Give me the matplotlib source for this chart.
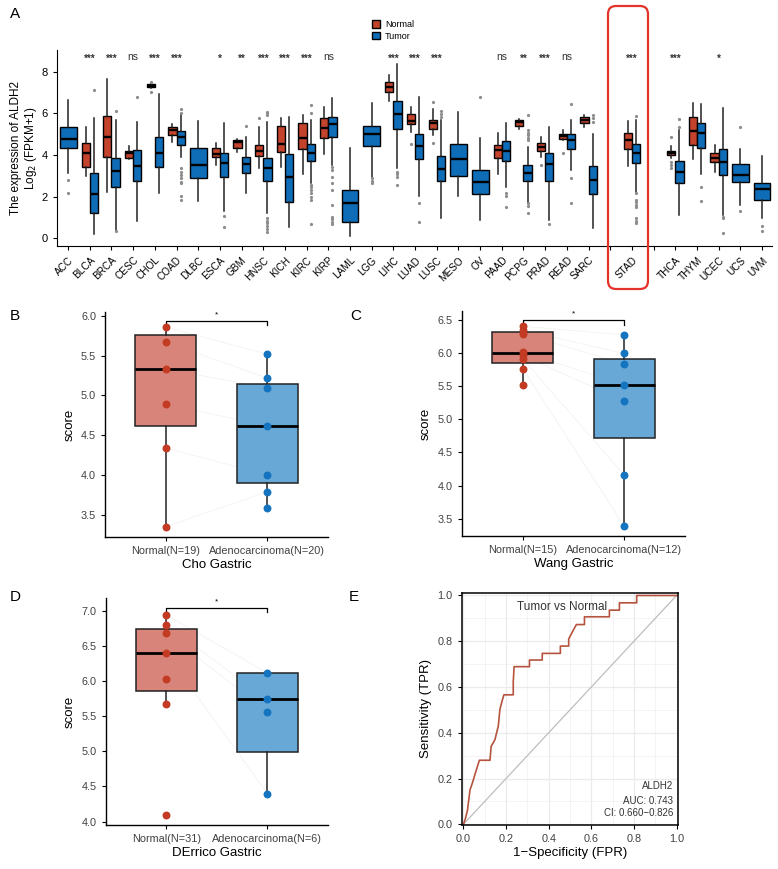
import numpy as np
import matplotlib.pyplot as plt
from matplotlib.patches import Patch, FancyBboxPatch
from matplotlib.transforms import IdentityTransform

plt.rcParams['font.family'] = ['Liberation Sans', 'DejaVu Sans']

# ---------------- panel A data (pan-cancer ALDH2) ----------------
cancers = ['ACC', 'BLCA', 'BRCA', 'CESC', 'CHOL', 'COAD', 'DLBC', 'ESCA', 'GBM', 'HNSC',
           'KICH', 'KIRC', 'KIRP', 'LAML', 'LGG', 'LIHC', 'LUAD', 'LUSC', 'MESO', 'OV',
           'PAAD', 'PCPG', 'PRAD', 'READ', 'SARC', '', 'STAD', '', 'THCA', 'THYM',
           'UCEC', 'UCS', 'UVM']
sig_labels = ['', '***', '***', 'ns', '***', '***', '', '*', '**', '***',
              '***', '***', 'ns', '', '', '***', '***', '***', '', '',
              'ns', '**', '***', 'ns', '', '', '***', '', '***', '',
              '*', '', '']

# (low whisker, q1, median, q3, high whisker); None = no normal samples
normal_stats = [
    None, (3.0, 3.41, 4.11, 4.6, 5.33), (2.24, 3.92, 4.85, 5.87, 7.63),
    (3.8, 3.86, 4.08, 4.2, 4.45), (7.2, 7.25, 7.33, 7.39, 7.45), (4.64, 4.96, 5.2, 5.36, 5.49),
    None, (3.52, 3.89, 4.05, 4.32, 4.59), (4.14, 4.35, 4.64, 4.72, 4.75),
    (3.36, 3.95, 4.2, 4.48, 5.36), (3.41, 4.16, 4.51, 5.39, 5.76), (3.07, 4.27, 4.8, 5.52, 5.92),
    (4.05, 4.8, 5.28, 5.76, 6.29), None, None,
    (6.59, 7.04, 7.25, 7.52, 7.84), (5.12, 5.49, 5.65, 5.95, 6.32), (4.96, 5.26, 5.52, 5.68, 6.19),
    None, None, (3.09, 3.84, 4.24, 4.48, 5.04),
    (5.25, 5.41, 5.57, 5.68, 5.72), (3.92, 4.21, 4.4, 4.59, 4.85), (4.72, 4.77, 4.91, 5.0, 5.2),
    (5.36, 5.52, 5.68, 5.81, 5.92), None, (3.47, 4.29, 4.72, 5.04, 5.63),
    None, (3.84, 3.98, 4.11, 4.21, 4.43), (3.79, 4.48, 5.17, 5.84, 6.51),
    (3.2, 3.68, 3.87, 4.08, 4.48), None, None]
normal_fliers = [
    [], [], [], [], [7.52, 7.04], [], [], [], [], [5.79],
    [], [], [], [], [], [], [4.53], [6.56, 4.59], [], [],
    [], [], [3.52], [4.11], [], [], [], [], [4.85, 3.65, 3.5, 3.36], [],
    [], [], []]
tumor_stats = [
    (3.12, 4.35, 4.75, 5.33, 6.64), (0.19, 1.2, 2.13, 3.12, 5.76), (0.4, 2.48, 3.25, 3.84, 5.68),
    (0.85, 2.77, 3.47, 4.24, 5.6), (2.19, 3.41, 4.1, 4.85, 6.93), (3.92, 4.48, 4.85, 5.15, 5.9),
    (1.81, 2.91, 3.52, 4.35, 5.63), (1.31, 2.96, 3.6, 4.08, 5.55), (2.19, 3.15, 3.55, 3.92, 4.88),
    (1.2, 2.75, 3.36, 3.87, 5.6), (0.53, 1.76, 2.96, 4.05, 5.84), (2.64, 3.73, 4.08, 4.51, 5.7),
    (3.52, 4.88, 5.49, 5.84, 6.75), (0.13, 0.8, 1.71, 2.32, 4.35), (2.96, 4.43, 4.99, 5.39, 6.48),
    (3.36, 5.25, 5.97, 6.61, 8.37), (2.03, 3.79, 4.43, 4.99, 6.8), (0.96, 2.77, 3.33, 3.95, 5.7),
    (2.03, 2.99, 3.79, 4.53, 6.05), (0.88, 2.13, 2.69, 3.28, 4.8), (2.45, 3.71, 4.21, 4.69, 5.52),
    (1.76, 2.77, 3.15, 3.52, 4.4), (0.88, 2.77, 3.55, 4.11, 5.33), (3.28, 4.27, 4.72, 4.99, 5.68),
    (0.48, 2.13, 2.8, 3.47, 4.99), None, (2.24, 3.6, 4.08, 4.51, 5.68),
    None, (1.12, 2.64, 3.2, 3.71, 5.2), (3.09, 4.32, 5.07, 5.55, 6.43),
    (1.12, 3.04, 3.68, 4.29, 6.24), (1.6, 2.69, 3.04, 3.55, 4.27), (0.96, 1.84, 2.37, 2.67, 3.97)]
tumor_fliers = [
    [2.8, 2.16], [7.12], [6.13, 0.35], [6.77], [], [6.2, 6.0, 3.36, 3.2, 3.04, 2.88, 2.72, 2.64, 2.05, 1.84],
    [], [1.07, 0.56], [5.39], [6.08, 6.0, 5.92, 0.96, 0.85, 0.72, 0.6, 0.45, 0.32],
    [], [6.4, 6.0, 2.56, 2.45, 2.32, 2.19, 2.0, 1.84, 0.69],
    [3.41, 3.28, 2.96, 2.64, 2.32, 1.6, 1.04, 0.93, 0.8, 0.67], [], [2.88, 2.77, 2.64],
    [3.2, 3.09, 2.96, 2.56], [1.68, 0.78], [6.1, 5.95, 5.84], [], [6.77], [2.19, 2.05, 1.52],
    [5.92, 5.2, 5.07, 4.95, 4.83, 4.7, 1.68, 1.57, 1.2], [0.69], [6.45, 2.91, 1.71],
    [5.9, 5.76, 5.6], [], [5.89, 2.16, 1.84, 1.73, 1.6, 1.49, 0.96, 0.85, 0.75],
    [], [5.73, 5.36], [2.45, 1.81], [1.04, 0.96, 0.24], [5.33, 1.31], [0.59, 0.37]]

# ---------------- panels B-D data (GEO gastric cohorts) ----------------
cho_normal_pts = [5.86, 5.67, 5.33, 4.89, 4.34, 3.35]
cho_adeno_pts = [5.52, 5.22, 5.10, 4.62, 4.0, 3.79, 3.59]
cho_normal_box = (3.35, 4.62, 5.33, 5.76, 5.86)
cho_adeno_box = (3.59, 3.9, 4.62, 5.15, 5.52)

wang_normal_pts = [6.40, 6.34, 6.29, 6.01, 5.96, 5.91, 5.76, 5.51]
wang_adeno_pts = [6.27, 5.99, 5.83, 5.52, 5.27, 4.16, 3.39]
wang_normal_box = (5.51, 5.84, 6.0, 6.32, 6.40)
wang_adeno_box = (3.39, 4.72, 5.52, 5.91, 6.27)

derrico_normal_pts = [6.95, 6.80, 6.69, 6.40, 6.04, 5.68, 4.10]
derrico_adeno_pts = [6.12, 5.75, 5.57, 4.40]
derrico_normal_box = (5.68, 5.86, 6.40, 6.75, 6.98)
derrico_adeno_box = (4.40, 4.99, 5.75, 6.12, 6.12)

# ---------------- panel E data (ROC) ----------------
roc_fpr = [0, 0.008, 0.019, 0.031, 0.042, 0.055, 0.065, 0.075, 0.125, 0.13, 0.148, 0.164,
           0.171, 0.179, 0.19, 0.234, 0.234, 0.238, 0.31, 0.31, 0.37, 0.37, 0.455, 0.455,
           0.494, 0.494, 0.511, 0.53, 0.568, 0.568, 0.685, 0.685, 0.732, 0.732, 0.813,
           0.813, 1.0]
roc_tpr = [0, 0.02, 0.06, 0.15, 0.18, 0.22, 0.25, 0.28, 0.28, 0.34, 0.37, 0.43,
           0.50, 0.53, 0.566, 0.566, 0.624, 0.689, 0.689, 0.718, 0.718, 0.747, 0.747, 0.779,
           0.779, 0.81, 0.84, 0.873, 0.873, 0.907, 0.907, 0.936, 0.936, 0.968, 0.968,
           1.0, 1.0]

RED = '#C4432C'
BLUE = '#0F6DB8'
RED_LIGHT = '#D9847A'
BLUE_LIGHT = '#68A8D7'
RED_PT = '#C23B22'
BLUE_PT = '#1574C0'

fig = plt.figure(figsize=(7.78, 8.69), dpi=100)


def make_stat(s, fl=()):
    return {'whislo': s[0], 'q1': s[1], 'med': s[2], 'q3': s[3], 'whishi': s[4], 'fliers': list(fl)}


# ---------------- panel A ----------------
axA = fig.add_axes([0.0733, 0.7169, 0.919, 0.2255])
x = np.arange(len(cancers))
flierprops = dict(marker='o', markersize=2.3, markerfacecolor='#8C8C8C', markeredgecolor='none')
for i in range(len(cancers)):
    ns, ts = normal_stats[i], tumor_stats[i]
    groups = []
    if ns is not None and ts is not None:
        groups = [(ns, normal_fliers[i], i - 0.19, 0.38, RED), (ts, tumor_fliers[i], i + 0.19, 0.38, BLUE)]
    elif ts is not None:
        groups = [(ts, tumor_fliers[i], i, 0.78, BLUE)]
    for st, fl, pos, w, col in groups:
        axA.bxp([make_stat(st, fl)], positions=[pos], widths=w, patch_artist=True,
                showcaps=False, flierprops=flierprops,
                boxprops=dict(facecolor=col, edgecolor='black', linewidth=1.0),
                medianprops=dict(color='black', linewidth=1.7),
                whiskerprops=dict(color='#222222', linewidth=1.1))
    if sig_labels[i]:
        if sig_labels[i] == 'ns':
            axA.text(i, 8.72, 'ns', ha='center', va='center', fontsize=7.5, color='#333333')
        else:
            axA.text(i, 8.6, sig_labels[i], ha='center', va='center', fontsize=7,
                     fontweight='bold', color='#333333')

axA.set_xlim(-0.51, 32.46)
axA.set_ylim(-0.37, 9.04)
axA.set_xticks(x)
axA.set_xticklabels(cancers, rotation=45, ha='right', rotation_mode='anchor', fontsize=7.2)
axA.set_yticks([0, 2, 4, 6, 8])
axA.tick_params(axis='y', labelsize=8, length=3)
axA.tick_params(axis='x', length=3)
axA.spines['top'].set_visible(False)
axA.spines['right'].set_visible(False)
axA.set_ylabel('The expression of ALDH2\nLog$_2$ (FPKM+1)', fontsize=8.5, labelpad=2, linespacing=1.05)

fig.legend(handles=[Patch(facecolor=RED, edgecolor='black', label='Normal'),
                    Patch(facecolor=BLUE, edgecolor='black', label='Tumor')],
           loc='upper left', bbox_to_anchor=(364 / 778, 1 - 12 / 869), frameon=False,
           fontsize=6.5, handlelength=0.9, handleheight=0.9, labelspacing=0.3, handletextpad=0.5)

fig.patches.append(FancyBboxPatch((608, 869 - 289), 40, 283,
                                  boxstyle='round,pad=0,rounding_size=8',
                                  transform=IdentityTransform(), figure=fig,
                                  fill=False, edgecolor='#E3342A', linewidth=1.6))


# ---------------- panels B-D ----------------
def paired_box(ax, n_box, a_box, n_pts, a_pts, labels, title, ylim, yticks, bracket_y):
    ax.bxp([make_stat(n_box), make_stat(a_box)], positions=[1, 2], widths=0.6,
           patch_artist=True, showcaps=False, showfliers=False,
           boxprops=dict(edgecolor='#222222', linewidth=1.1),
           medianprops=dict(color='black', linewidth=2),
           whiskerprops=dict(color='#222222', linewidth=1.1))
    for patch, col in zip(ax.patches, [RED_LIGHT, BLUE_LIGHT]):
        patch.set_facecolor(col)
    # faint pairing lines
    for yn, ya in zip(sorted(n_pts, reverse=True), sorted(a_pts, reverse=True)):
        ax.plot([1, 2], [yn, ya], color='#F0F0F0', lw=0.5, zorder=1)
    ax.scatter([1] * len(n_pts), n_pts, s=22, color=RED_PT, zorder=5)
    ax.scatter([2] * len(a_pts), a_pts, s=22, color=BLUE_PT, zorder=5)
    d = (ylim[1] - ylim[0]) * 0.02
    ax.plot([1, 1, 2, 2], [bracket_y - d, bracket_y, bracket_y, bracket_y - d], color='black', lw=0.9)
    ax.text(1.5, bracket_y + d * 0.6, '*', ha='center', va='bottom', fontsize=6)
    ax.set_xlim(0.4, 2.6)
    ax.set_ylim(*ylim)
    ax.set_yticks(yticks)
    ax.set_yticklabels([f'{t:.1f}' for t in yticks])
    ax.set_xticks([1, 2])
    ax.set_xticklabels(labels)
    ax.tick_params(labelsize=7.8, labelcolor='#404040', length=3)
    ax.set_ylabel('score', fontsize=9.5, labelpad=4)
    ax.set_xlabel(title, fontsize=9.5, labelpad=2)
    ax.spines['top'].set_visible(False)
    ax.spines['right'].set_visible(False)
    for sp in ('left', 'bottom'):
        ax.spines[sp].set_linewidth(1.0)


axB = fig.add_axes([0.135, 0.382, 0.2866, 0.259])
paired_box(axB, cho_normal_box, cho_adeno_box, cho_normal_pts, cho_adeno_pts,
           ['Normal(N=19)', 'Adenocarcinoma(N=20)'], 'Cho Gastric',
           (3.22, 6.05), [3.5, 4.0, 4.5, 5.0, 5.5, 6.0], 5.94)

axC = fig.add_axes([0.5938, 0.3832, 0.2866, 0.2589])
paired_box(axC, wang_normal_box, wang_adeno_box, wang_normal_pts, wang_adeno_pts,
           ['Normal(N=15)', 'Adenocarcinoma(N=12)'], 'Wang Gastric',
           (3.24, 6.63), [3.5, 4.0, 4.5, 5.0, 5.5, 6.0, 6.5], 6.49)

axD = fig.add_axes([0.1359, 0.0506, 0.2857, 0.2612])
paired_box(axD, derrico_normal_box, derrico_adeno_box, derrico_normal_pts, derrico_adeno_pts,
           ['Normal(N=31)', 'Adenocarcinoma(N=6)'], 'DErrico Gastric',
           (3.95, 7.19), [4.0, 4.5, 5.0, 5.5, 6.0, 6.5, 7.0], 7.05)

# ---------------- panel E ----------------
axE = fig.add_axes([0.5934, 0.0506, 0.2784, 0.2673])
axE.set_xlim(-0.008, 1.008)
axE.set_ylim(-0.003, 1.012)
axE.set_xticks(np.arange(0, 1.01, 0.2))
axE.set_yticks(np.arange(0, 1.01, 0.2))
axE.set_xticks(np.arange(0.1, 1.0, 0.2), minor=True)
axE.set_yticks(np.arange(0.1, 1.0, 0.2), minor=True)
axE.grid(True, which='major', color='#EBEBEB', lw=0.9)
axE.grid(True, which='minor', color='#F2F2F2', lw=0.6)
axE.tick_params(which='minor', length=0)
axE.set_axisbelow(True)
axE.plot([0, 1], [0, 1], color='#BDBDBD', lw=0.9)
axE.plot(roc_fpr, roc_tpr, color='#B5533E', lw=1.2)
axE.xaxis.set_major_formatter(plt.FormatStrFormatter('%.1f'))
axE.yaxis.set_major_formatter(plt.FormatStrFormatter('%.1f'))
axE.tick_params(labelsize=7.8, labelcolor='#404040', length=3)
for sp in axE.spines.values():
    sp.set_linewidth(1.1)
axE.set_xlabel('1\u2212Specificity (FPR)', fontsize=9.5, labelpad=2)
axE.set_ylabel('Sensitivity (TPR)', fontsize=9.5, labelpad=4)
axE.text(0.465, 0.95, 'Tumor vs Normal', ha='center', va='center', fontsize=8.5, color='#333333')
axE.text(0.985, 0.167, 'ALDH2', ha='right', va='center', fontsize=7, color='#333333')
axE.text(0.985, 0.104, 'AUC: 0.743', ha='right', va='center', fontsize=7, color='#333333')
axE.text(0.985, 0.048, 'CI: 0.660\u22120.826', ha='right', va='center', fontsize=7, color='#333333')

# panel letters
for lab, px, py in [('A', 10, 14), ('B', 10, 316), ('C', 350, 316), ('D', 10, 597), ('E', 349, 597)]:
    fig.text(px / 778, 1 - py / 869, lab, fontsize=11, ha='left', va='center')

fig.savefig('out.png', dpi=100)
